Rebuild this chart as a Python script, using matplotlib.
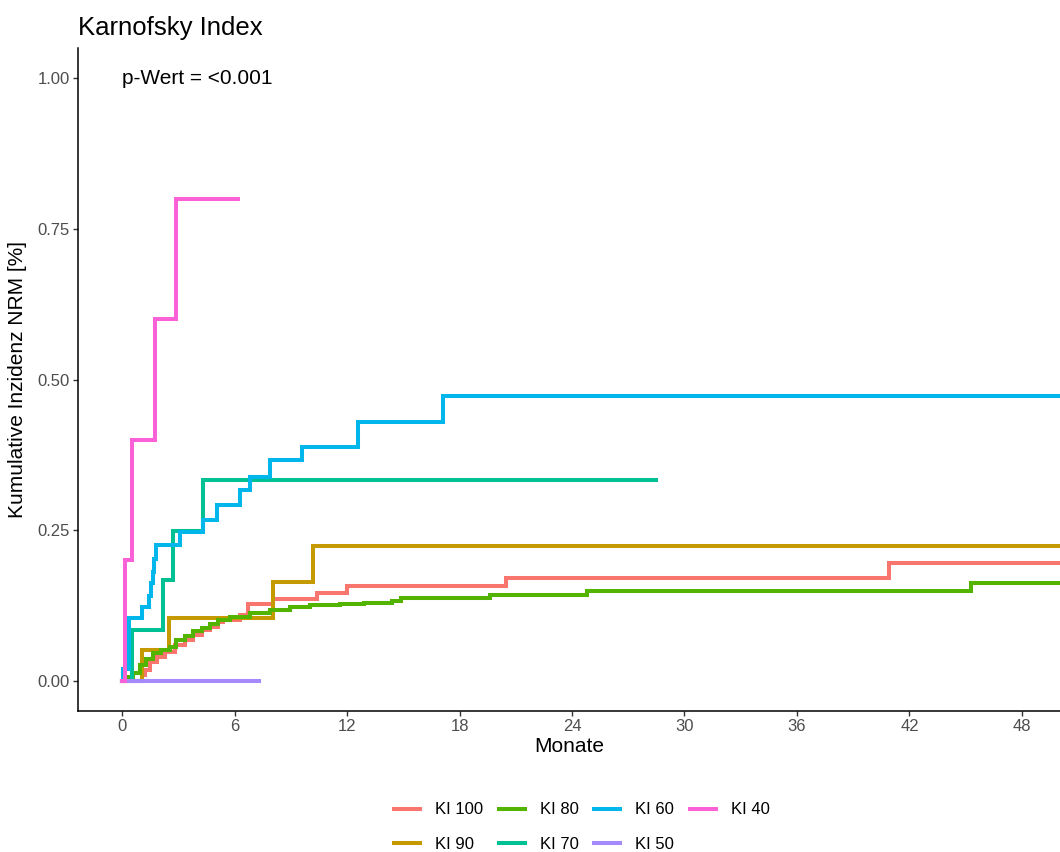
import matplotlib
matplotlib.use("Agg")
import matplotlib.pyplot as plt
import numpy as np

plt.rcParams['font.family'] = ['Liberation Sans', 'DejaVu Sans']

# cumulative incidence step curves (months, value)
groups = ['KI 100', 'KI 90', 'KI 80', 'KI 70', 'KI 60', 'KI 50', 'KI 40']
colors = ['#F8766D', '#C49A00', '#53B400', '#00C094', '#00B6EB', '#A58AFF', '#FB61D7']

ki100_t = [0, 1.05, 1.2, 1.49, 1.85, 2.29, 2.83, 3.36, 3.8, 4.25, 4.69, 5.14, 5.4, 6.3, 6.74, 8.07, 10.4, 12.0, 20.5, 40.9]
ki100_v = [0, 0.010, 0.018, 0.032, 0.040, 0.048, 0.060, 0.068, 0.076, 0.084, 0.090, 0.098, 0.101, 0.109, 0.128, 0.136, 0.146, 0.157, 0.171, 0.196]
ki100_end = 55

ki90_t = [0, 1.05, 2.52, 8.07, 10.2]
ki90_v = [0, 0.052, 0.105, 0.164, 0.224]
ki90_end = 55

ki80_t = [0, 0.3, 0.6, 0.96, 1.3, 1.67, 2.1, 2.56, 2.9, 3.36, 3.8, 4.25, 4.69, 5.14, 5.76, 6.83, 7.9, 8.96, 10.0, 11.6, 12.9, 14.4, 14.9, 19.6, 24.8, 45.3]
ki80_v = [0, 0.006, 0.013, 0.026, 0.037, 0.046, 0.051, 0.057, 0.068, 0.074, 0.082, 0.088, 0.095, 0.101, 0.106, 0.112, 0.118, 0.123, 0.126, 0.128, 0.130, 0.133, 0.137, 0.142, 0.149, 0.162]
ki80_end = 55

ki70_t = [0, 0.51, 2.2, 2.74, 4.34]
ki70_v = [0, 0.084, 0.167, 0.249, 0.333]
ki70_end = 28.5

ki60_t = [0, 0.07, 0.39, 1.05, 1.46, 1.52, 1.63, 1.7, 1.81, 3.1, 4.34, 5.05, 6.3, 6.83, 7.89, 9.58, 12.6, 17.1]
ki60_v = [0, 0.020, 0.104, 0.123, 0.140, 0.162, 0.181, 0.203, 0.225, 0.247, 0.267, 0.291, 0.316, 0.339, 0.366, 0.388, 0.430, 0.472]
ki60_end = 55

ki50_t = [0]
ki50_v = [0]
ki50_end = 7.3

ki40_t = [0, 0.16, 0.55, 1.76, 2.9]
ki40_v = [0, 0.2, 0.4, 0.6, 0.8]
ki40_end = 6.17

curves = [(ki100_t, ki100_v, ki100_end), (ki90_t, ki90_v, ki90_end),
          (ki80_t, ki80_v, ki80_end), (ki70_t, ki70_v, ki70_end),
          (ki60_t, ki60_v, ki60_end), (ki50_t, ki50_v, ki50_end),
          (ki40_t, ki40_v, ki40_end)]

x_ticks = [0, 6, 12, 18, 24, 30, 36, 42, 48]
y_ticks = [0, 0.25, 0.5, 0.75, 1.0]

fig = plt.figure(figsize=(10.6, 8.52), dpi=100)
ax = fig.add_axes([78 / 1060, 1 - 711 / 852, 1 - 78 / 1060, (711 - 48) / 852])

for g, c, (t, v, end) in zip(groups, colors, curves):
    xs = list(t) + [end]
    ys = list(v) + [v[-1]]
    ax.step(xs, ys, where='post', color=c, lw=2.9, label=g, solid_joinstyle='miter')

ax.set_xlim(-2.35, 50.03)
ax.set_ylim(-0.05, 1.05)
ax.set_xticks(x_ticks)
ax.set_yticks(y_ticks)
ax.set_yticklabels(['%.2f' % y for y in y_ticks])
for s in ['top', 'right']:
    ax.spines[s].set_visible(False)
for s in ['left', 'bottom']:
    ax.spines[s].set_linewidth(1.1)
    ax.spines[s].set_color('black')
ax.tick_params(length=3.6, width=1.0, color='#333333', labelcolor='#4D4D4D', labelsize=12, pad=2.5)

ax.set_xlabel('Monate', fontsize=15, labelpad=2)
ax.set_ylabel('Kumulative Inzidenz NRM [%]', fontsize=15, labelpad=7)
ax.set_title('Karnofsky Index', loc='left', fontsize=18.5, pad=9)

ax.text(0, 1.0, 'p-Wert = <0.001', fontsize=15, va='center', ha='left')

fig.legend(loc='center', bbox_to_anchor=(0.549, 1 - 827 / 852), ncol=4, frameon=False,
           fontsize=12, handlelength=1.55, handletextpad=0.9, columnspacing=0.95,
           labelspacing=1.15)

fig.savefig('out.png', dpi=100)
